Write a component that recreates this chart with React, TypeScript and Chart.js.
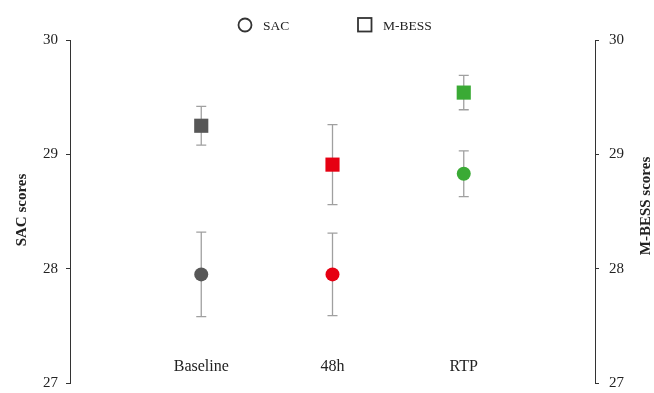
import React, { useEffect, useRef } from "react";
import { Chart, registerables } from "chart.js";

Chart.register(...registerables);

const categories = ["Baseline", "48h", "RTP"];
const sacMeans = [27.95, 27.95, 28.83];
const sacErr = [0.37, 0.36, 0.2];
const mbessMeans = [29.25, 28.91, 29.54];
const mbessErr = [0.17, 0.35, 0.15];
const pointColors = ["#575757", "#e60012", "#3aaa35"];
const yTicks = [27, 28, 29, 30];

const FONT = "'Liberation Serif', 'Times New Roman', serif";

const overlayPlugin = {
  id: "overlay",
  beforeDatasetsDraw(chart: any) {
    const ctx = chart.ctx;
    const x = chart.scales.x;
    ctx.save();
    ctx.strokeStyle = "#a0a0a0";
    ctx.lineWidth = 1.3;
    const drawErr = (means: number[], errs: number[], axis: any) => {
      means.forEach((m, i) => {
        const px = x.getPixelForValue(i + 1);
        const top = axis.getPixelForValue(m + errs[i]);
        const bot = axis.getPixelForValue(m - errs[i]);
        ctx.beginPath();
        ctx.moveTo(px, top);
        ctx.lineTo(px, bot);
        ctx.moveTo(px - 5, top);
        ctx.lineTo(px + 5, top);
        ctx.moveTo(px - 5, bot);
        ctx.lineTo(px + 5, bot);
        ctx.stroke();
      });
    };
    drawErr(sacMeans, sacErr, chart.scales.y);
    drawErr(mbessMeans, mbessErr, chart.scales.y2);
    ctx.restore();
  },
  afterDraw(chart: any) {
    const ctx = chart.ctx;
    const x = chart.scales.x;
    const y = chart.scales.y;
    ctx.save();
    // category labels
    ctx.fillStyle = "#222";
    ctx.font = `16px ${FONT}`;
    ctx.textAlign = "center";
    ctx.textBaseline = "middle";
    categories.forEach((c, i) => {
      ctx.fillText(c, x.getPixelForValue(i + 1), y.getPixelForValue(27.14));
    });
    // axis titles
    ctx.font = `bold 15px ${FONT}`;
    ctx.save();
    ctx.translate(22, 210);
    ctx.rotate(-Math.PI / 2);
    ctx.fillText("SAC scores", 0, 0);
    ctx.restore();
    ctx.save();
    ctx.translate(646, 206);
    ctx.rotate(-Math.PI / 2);
    ctx.fillText("M-BESS scores", 0, 0);
    ctx.restore();
    // legend
    ctx.strokeStyle = "#333";
    ctx.lineWidth = 1.8;
    ctx.beginPath();
    ctx.arc(245, 25, 6.5, 0, Math.PI * 2);
    ctx.stroke();
    ctx.strokeRect(358, 18, 13.5, 13.5);
    ctx.font = `13.5px ${FONT}`;
    ctx.textAlign = "left";
    ctx.fillStyle = "#222";
    ctx.fillText(chart.data.datasets[0].label, 263, 26);
    ctx.fillText(chart.data.datasets[1].label, 383, 26);
    ctx.restore();
  },
};

export default function App() {
  const ref = useRef<HTMLCanvasElement>(null);
  useEffect(() => {
    const fitY = (w: number) => (s: any) => {
      s.width = w;
      s.paddingTop = 0;
      s.paddingBottom = 0;
    };
    const chart = new Chart(ref.current!, {
      type: "scatter",
      data: {
        datasets: [
          {
            label: "SAC",
            data: sacMeans.map((v, i) => ({ x: i + 1, y: v })),
            yAxisID: "y",
            pointStyle: "circle",
            pointRadius: 7,
            pointBackgroundColor: pointColors,
            pointBorderColor: pointColors,
            pointBorderWidth: 0,
          },
          {
            label: "M-BESS",
            data: mbessMeans.map((v, i) => ({ x: i + 1, y: v })),
            yAxisID: "y2",
            pointStyle: "rect",
            pointRadius: 10,
            pointBackgroundColor: pointColors,
            pointBorderColor: pointColors,
            pointBorderWidth: 0,
          },
        ],
      },
      options: {
        animation: false,
        responsive: false,
        maintainAspectRatio: false,
        layout: { padding: { top: 40, bottom: 7, left: 0, right: 0 } },
        plugins: { legend: { display: false }, tooltip: { enabled: false } },
        scales: {
          x: { type: "linear", min: 0, max: 4, display: false },
          y: {
            position: "left",
            min: 27,
            max: 30,
            afterBuildTicks: (s: any) => {
              s.ticks = yTicks.map((v) => ({ value: v }));
            },
            afterFit: fitY(70),
            grid: { drawOnChartArea: false, tickLength: 4, color: "#333" },
            border: { color: "#333", width: 1 },
            ticks: { padding: 8, color: "#222", font: { family: FONT, size: 15 } },
          },
          y2: {
            position: "right",
            min: 27,
            max: 30,
            afterBuildTicks: (s: any) => {
              s.ticks = yTicks.map((v) => ({ value: v }));
            },
            afterFit: fitY(59),
            grid: { drawOnChartArea: false, tickLength: 4, color: "#333" },
            border: { color: "#333", width: 1 },
            ticks: { padding: 10, color: "#222", font: { family: FONT, size: 15 } },
          },
        },
      },
      plugins: [overlayPlugin],
    } as any);
    return () => chart.destroy();
  }, []);
  return (
    <div style={{ position: "fixed", left: 0, top: 0, width: 654, height: 393, background: "#fff" }}>
      <canvas ref={ref} width={654} height={393} style={{ width: 654, height: 393 }} />
    </div>
  );
}
